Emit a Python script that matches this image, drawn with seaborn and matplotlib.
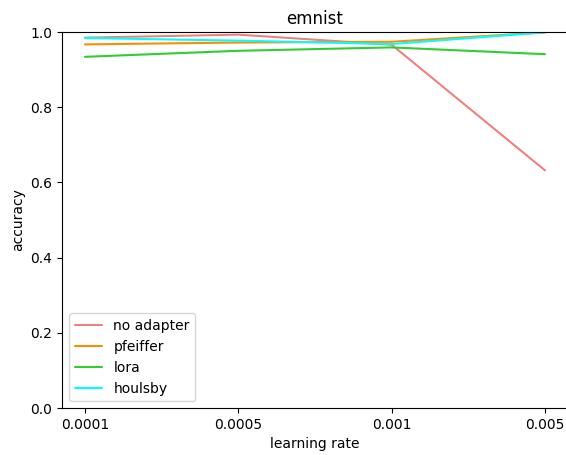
import matplotlib.pyplot as plt
import pandas as pd
import seaborn as sns

learning_rates = ['0.0001', '0.0005', '0.001', '0.005']
no_adapter = [0.985, 0.993, 0.966, 0.632]
pfeiffer = [0.967, 0.972, 0.974, 0.999]
lora = [0.934, 0.950, 0.959, 0.941]
houlsby = [0.984, 0.977, 0.968, 0.999]

series = {'no adapter': no_adapter, 'pfeiffer': pfeiffer, 'lora': lora, 'houlsby': houlsby}
colors = {'no adapter': 'lightcoral', 'pfeiffer': 'darkorange', 'lora': 'limegreen', 'houlsby': 'cyan'}

rows = []
for name, vals in series.items():
    for lr, v in zip(learning_rates, vals):
        rows.append({'learning rate': lr, 'accuracy': v, 'adapter': name})
df = pd.DataFrame(rows)

sns.set_style('ticks', {'axes.edgecolor': 'black', 'text.color': 'black',
                        'axes.labelcolor': 'black', 'xtick.color': 'black',
                        'ytick.color': 'black'})
fig = plt.figure(figsize=(5.66, 4.55), dpi=100)
ax = fig.add_axes([62 / 566, 1 - 408 / 455, 506 / 566, 376 / 455])
sns.lineplot(data=df, x='learning rate', y='accuracy', hue='adapter',
             palette=colors, sort=False, ax=ax)
ax.set_ylim(0, 1.0)
ax.set_xlim(-0.15, 3.15)
ax.set_title('emnist')
ax.legend(loc='lower left', title=None)
plt.savefig('out.png')
plt.close()
